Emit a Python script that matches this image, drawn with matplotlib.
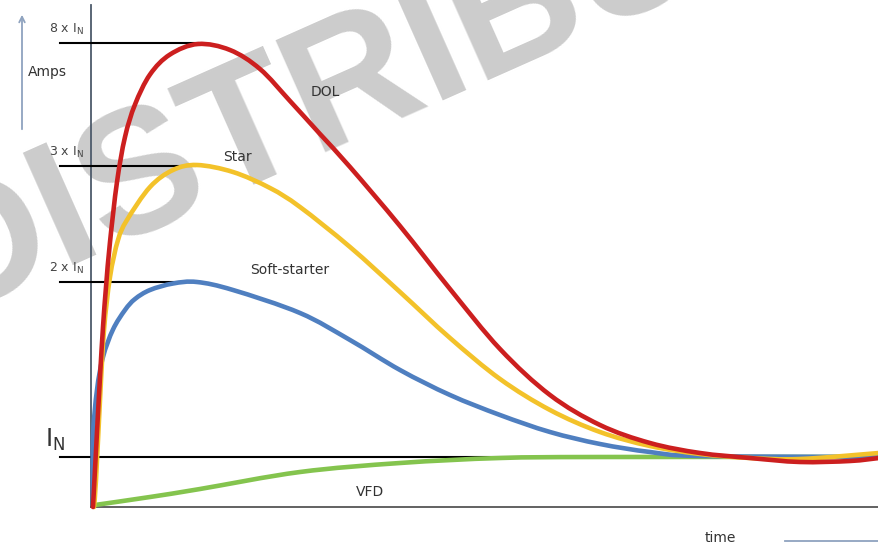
import numpy as np
import matplotlib

matplotlib.use("Agg")
import matplotlib.pyplot as plt
from matplotlib.path import Path
from matplotlib.patches import PathPatch

# time in arbitrary units, current in units where I_N = 1
dol_t = [0.1, 0.5, 0.8, 1.1, 1.4, 1.8, 2.5, 3.3, 4.3, 5.8, 7.8, 10.6, 13.8, 16.8,
         19.8, 22.8, 25.8, 30.8, 35.8, 40.8, 45.8, 50.8, 55.8, 60.8, 65.8,
         70.8, 75.8, 78.7]
dol_i = [0.0, 1.5, 2.6, 3.6, 4.4, 5.3, 6.5, 7.4, 8.05, 8.65, 9.05, 9.26, 9.14,
         8.76, 8.12, 7.46, 6.8, 5.62, 4.36, 3.16, 2.24, 1.64, 1.28, 1.08,
         0.98, 0.9, 0.92, 0.98]

star_t = [0.2, 0.4, 0.8, 1.2, 1.8, 2.6, 3.5, 5.8, 8.1, 10.5, 14.1, 17.8, 20.8,
          25.8, 30.8, 35.8, 40.8, 45.8, 50.8, 55.8, 60.8, 65.8, 70.8, 78.7]
star_i = [0.0, 0.54, 2.14, 3.54, 4.6, 5.34, 5.74, 6.4, 6.74, 6.84, 6.7, 6.38,
          6.0, 5.2, 4.3, 3.38, 2.56, 1.94, 1.5, 1.22, 1.06, 0.98, 0.96, 1.08]

soft_t = [0.1, 0.1, 0.5, 1.1, 2.1, 3.3, 4.3, 5.8, 8.1, 10.5, 14.1, 20.8, 25.8,
          30.8, 35.8, 40.8, 45.8, 50.8, 55.8, 60.8, 78.7]
soft_i = [0.04, 1.4, 2.34, 3.0, 3.55, 3.94, 4.16, 4.34, 4.47, 4.5, 4.34, 3.88,
          3.34, 2.74, 2.24, 1.84, 1.5, 1.26, 1.1, 1.02, 1.0]

vfd_t = [0.3, 5.8, 10.8, 20.8, 30.8, 40.8, 50.8, 78.7]
vfd_i = [0.04, 0.2, 0.36, 0.7, 0.88, 0.98, 1.0, 1.0]

level_values = [9.28, 6.82, 4.5]
level_ends = [10.6, 10.3, 10.8]
level_labels = [r"8 x I$_\mathregular{N}$", r"3 x I$_\mathregular{N}$",
                r"2 x I$_\mathregular{N}$"]
nominal = 1.0

t_end = 78.7


def smooth_path(xs, ys):
    # Catmull-Rom through the read points, drawn as cubic Bezier segments
    p = np.column_stack([xs, ys]).astype(float)
    p = np.vstack([p[0], p, p[-1]])
    verts = [p[1]]
    codes = [Path.MOVETO]
    for k in range(1, len(p) - 2):
        c1 = p[k] + (p[k + 1] - p[k - 1]) / 6
        c2 = p[k + 1] - (p[k + 2] - p[k]) / 6
        verts += [c1, c2, p[k + 1]]
        codes += [Path.CURVE4] * 3
    return Path(verts, codes)


def draw_curve(ax, xs, ys, color, z):
    patch = PathPatch(smooth_path(xs, ys), facecolor="none", edgecolor=color,
                      lw=3.3, capstyle="round", joinstyle="round", zorder=z)
    ax.add_patch(patch)


fig = plt.figure(figsize=(8.79, 5.49), dpi=100)
ax = fig.add_axes([0, 0, 1, 1])
ax.set_xlim(-9.2, t_end)
ax.set_ylim(-0.84, 10.14)
ax.axis("off")

# watermark
ax.text(-56 / 879, 1 - 317 / 549, "DISTRIBUTION", fontsize=128,
        family="Liberation Sans", weight="bold", color="#cccccc",
        rotation=24, rotation_mode="anchor", ha="left", va="baseline",
        transform=fig.transFigure, zorder=1)

# axes lines
ax.plot([-0.1, -0.1], [0, 10.04], color="#4d5b6b", lw=1.3, zorder=2)
ax.plot([-0.1, t_end], [0, 0], color="#555555", lw=1.3, zorder=2)
ax.annotate("", xy=(-7.0, 9.9), xytext=(-7.0, 7.5),
            arrowprops=dict(arrowstyle="->", color="#8fa3bf", lw=1.3))
ax.plot([69.3, t_end], [-0.68, -0.68], color="#8fa3bf", lw=1.3, clip_on=False)

# reference levels
for val, end, lab in zip(level_values, level_ends, level_labels):
    ax.plot([-3.2, end], [val, val], color="black", lw=1.5, zorder=3)
    ax.text(-2.6, val + 0.28, lab, fontsize=9, color="#444444",
            ha="center", va="center", zorder=8)
ax.plot([-3.2, t_end], [nominal, nominal], color="black", lw=1.5, zorder=3)
ax.text(-3.7, 1.34, r"I$_\mathregular{N}$", fontsize=17, color="#333333",
        ha="center", va="center", zorder=8)

# curves
draw_curve(ax, vfd_t, vfd_i, "#84c44e", 4)
draw_curve(ax, soft_t, soft_i, "#4f7fc0", 5)
draw_curve(ax, star_t, star_i, "#f3c22a", 6)
draw_curve(ax, dol_t, dol_i, "#cc1f1f", 7)

txt = dict(fontsize=10, color="#333333", ha="center", va="center", zorder=8)
ax.text(-4.5, 8.7, "Amps", **txt)
ax.text(23.3, 8.3, "DOL", **txt)
ax.text(14.5, 7.0, "Star", **txt)
ax.text(19.8, 4.74, "Soft-starter", **txt)
ax.text(27.8, 0.3, "VFD", **txt)
ax.text(62.8, -0.62, "time", **txt)

fig.savefig("out.png", dpi=100)
